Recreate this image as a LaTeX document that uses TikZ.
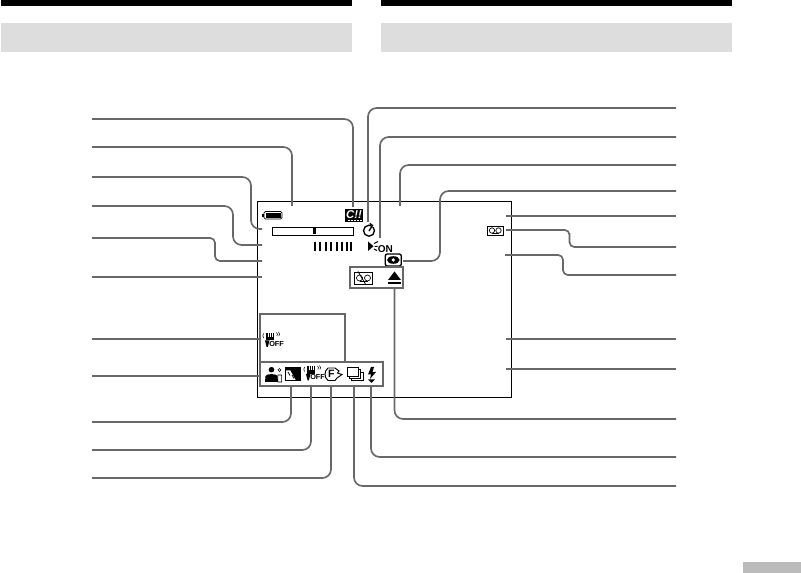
\documentclass[tikz,border=0pt]{standalone}
\usepackage{fontspec}
\setmainfont{Liberation Sans}
\begin{document}
\begin{tikzpicture}[x=0.75pt,y=-0.75pt,
  lead/.style={draw=leadgray,line width=1.25pt,rounded corners=6.5pt},
  zlead/.style={lead,rounded corners=3.6pt},
  panel/.style={draw=leadgray,line width=1.4pt},
  frameline/.style={draw=black,line width=0.75pt},
  icontext/.style={inner sep=0pt,font=\bfseries\fontsize{5.5}{6}\selectfont}]
\definecolor{leadgray}{HTML}{686868}
\definecolor{headgray}{HTML}{DDDDDD}
\definecolor{tabgray}{HTML}{BBBBBB}
\useasboundingbox (0,0) rectangle (801,573);
% page furniture
\fill[black] (1,0) rectangle (352,6);
\fill[black] (381,0) rectangle (732,6);
\fill[headgray] (1,23) rectangle (352,52);
\fill[headgray] (381,23) rectangle (732,52);
\fill[tabgray] (743,562) rectangle (801,573);
% viewfinder frame
\draw[frameline] (257,202) rectangle (511.5,398);
% left free ends
\foreach \n/\y in {1/119,2/147,3/177,4/206,5/238,6/277,7/339,8/376,9/422,10/450,11/478}
  \coordinate (l\n) at (92,\y);
\foreach \n/\y in {1/108,2/137,3/165,4/191,5/216,6/247,7/275,8/339,9/369,10/419,11/457,12/486}
  \coordinate (r\n) at (676,\y);
% cassette memory icon
\fill[black] (345,209) rectangle (363,222);
\node[text=white,inner sep=0pt,font=\bfseries\itshape\fontsize{8.5}{8.5}\selectfont] (cass) at (354,214.6) {C!!};
\foreach \x in {349,352,355,358,361} \fill[white] (\x-0.7,219.6) rectangle (\x+0.7,221);
\coordinate (e1) at (353,207);
\coordinate (e2) at (292,206);
\coordinate (e3) at (262,229);
\coordinate (e4) at (262,245);
\coordinate (e5) at (262,261);
\coordinate (e6) at (262,277);
\coordinate (e7) at (260,339);
\coordinate (e8) at (260,376);
\coordinate (c3) at (251,200);
\coordinate (c4) at (233,225);
\coordinate (c5) at (215,250);
% battery
\draw[black,line width=0.55pt,rounded corners=1pt] (264,211.5) rectangle (282,219);
\fill[black] (265.5,212.8) rectangle (280.8,217.8);
\fill[black] (262,213.7) rectangle (264,216.8);
% zoom bar
\draw[draw=black,line width=0.6pt] (272,227) rectangle (353,235);
\fill[black] (313,228) rectangle (316,234);
\foreach \x in {315,320.4,325.8,331.2,336.6,342,347.4,351}
  \fill[black] (\x-1,242) rectangle (\x+1,251);
% self timer
\draw[black,line width=1pt] (369,230.7) circle (5.5);
\fill[white] (370.5,223.5) rectangle (375,227);
\draw[black,line width=1pt] (369,231) -- (372.5,225.5) -- (369.8,223.5);
% light on
\fill[black] (368,241.5) -- (368,251) -- (373.5,246.2) -- cycle;
\draw[black,line width=0.7pt] (374,243.5) -- (378,241.5) (374.5,246.3) -- (377.5,246.3) (374,249) -- (377,250.5);
\node[icontext,anchor=west,font=\bfseries\fontsize{7.5}{7.5}\selectfont] (onlabel) at (377.5,249.3) {ON};
% eye
\node[draw=black,rounded corners=1.5pt,line width=1pt,minimum width=12pt,minimum height=9pt,inner sep=0pt] (eye) at (393.3,260) {};
\fill[black] (393.3,260) ellipse (6.3 and 3.8);
\fill[white] (393.3,260) circle (1.8);
% cassette warning panel
\draw[panel] (350,267) rectangle (403,288);
\draw[black,line width=0.6pt] (354.5,272.5) rectangle (372.5,284);
\draw[black,line width=0.5pt] (359.5,278) circle (3) (367.5,278) circle (3);
\draw[black,line width=0.5pt] (359.5,281) -- (367.5,281);
\draw[black,line width=0.6pt] (358,271.5) -- (366,285);
\fill[black] (394.5,271.5) -- (388,280) -- (401,280) -- cycle;
\fill[black] (388,281.8) rectangle (401,283.8);
% tape icon right
\draw[black,line width=0.7pt] (487.5,226) rectangle (503,235.5);
\draw[black,line width=0.5pt] (492,230.5) circle (2.7) (498.5,230.5) circle (2.7);
\draw[black,line width=0.5pt] (492,233.2) -- (498.5,233.2);
% mode panels
\draw[panel] (260,362) -- (260,314) -- (345,314) -- (345,362);
\draw[panel] (260,362) rectangle (383,386);
% stabiliser off icon
\newcommand{\stabicon}[2]{%
  \begin{scope}[shift={(#1,#2)}]
    \foreach \dx in {5,7.2,9.4,11.6} \draw[black,line width=1pt] (\dx,1) -- (\dx,6);
    \fill[black] (4.3,5) rectangle (12.4,8.5);
    \draw[black,line width=0.4pt] (1.6,1.5) .. controls (0.6,3) and (0.6,4.5) .. (1.6,6);
    \draw[black,line width=0.4pt] (14.5,0.5) .. controls (15.8,1.5) and (15.8,3) .. (14.8,4);
    \draw[black,line width=0.4pt] (16.5,0) .. controls (18,1.5) and (18,3) .. (16.8,4);
    \fill[black] (3,8.5) -- (7.5,8.5) -- (5.8,15) -- (4.6,15) -- cycle;
    \node[icontext,anchor=west] at (7,11.7) {OFF};
  \end{scope}}
\stabicon{262}{332}
\stabicon{303}{365.5}
% bottom row: person
\fill[black] (271.5,369.7) circle (2.8);
\fill[black] (265,382) -- (265.5,376) .. controls (266,373.5) and (277,373.5) .. (277.5,376) -- (278,382) -- cycle;
\draw[black,line width=0.4pt] (279.5,370) circle (1.4);
\draw[black,line width=0.4pt] (277.8,382) -- (278,375) -- (281.5,375) -- (281.7,382) -- cycle;
% exposure
\draw[black,line width=0.6pt] (285.5,367.5) rectangle (300,380.5);
\fill[black] (285.5,367.5) -- (300,367.5) -- (300,380.5) -- (296,380.5) -- (290.5,370.5) -- (285.5,370.5) -- cycle;
\draw[black,line width=0.6pt] (288,372) -- (290,375.5) (292,375) -- (294,378.5);
% program F
\draw[black,line width=0.7pt] (328,368) -- (335,368) -- (339,371) -- (337.5,373) -- (342,374.5) -- (337,378) -- (335,380.5) -- (328,380.5) .. controls (324,377.5) and (324,371) .. (328,368);
\node[icontext,font=\bfseries\fontsize{8}{8}\selectfont] (fmark) at (331.5,374.3) {F};
% burst
\draw[black,line width=0.7pt] (347,367.5) rectangle (358,376);
\draw[black,line width=0.6pt] (358,369.5) -- (360.5,369.5) -- (360.5,378.5) -- (349,378.5) -- (349,376);
\draw[black,line width=0.6pt] (360.5,372) -- (363,372) -- (363,380.5) -- (351,380.5) -- (351,378.5);
% flash
\fill[black] (371,367) -- (374,367) -- (372.5,372) -- (376,372) -- (370,379) -- (371,374.5) -- (368,374.5) -- cycle;
\fill[black] (368,379.5) -- (375,379.5) -- (371.5,383) -- cycle;
% ends
\coordinate (e9) at (291,385.5);
\coordinate (e10) at (311,385.5);
\coordinate (e11) at (331,385.5);
\coordinate (f1) at (368,222);
\coordinate (f2) at (380,238);
\coordinate (f3) at (400,206);
\coordinate (f4) at (403,261);
\coordinate (f5) at (506,216);
\coordinate (f6) at (506,230);
\coordinate (f7) at (505,255);
\coordinate (f8) at (506,339);
\coordinate (f9) at (506,369);
\coordinate (f10) at (394.5,289);
\coordinate (f11) at (371,385.5);
\coordinate (f12) at (354,385.5);
\coordinate (d4) at (440,225);
\coordinate (d6) at (569.5,238);
\coordinate (d7) at (563,265);
% leaders
\draw[lead] (l1) -| (e1);
\draw[lead] (l2) -| (e2);
\draw[lead] (l3) -| (c3) |- (e3);
\draw[lead] (l4) -| (c4) |- (e4);
\draw[zlead] (l5) -| (c5) |- (e5);
\draw[lead] (l6) -- (e6);
\draw[lead] (l7) -- (e7);
\draw[lead] (l8) -- (e8);
\draw[lead] (l9) -| (e9);
\draw[lead] (l10) -| (e10);
\draw[lead] (l11) -| (e11);
\draw[lead] (r1) -| (f1);
\draw[lead] (r2) -| (f2);
\draw[lead] (r3) -| (f3);
\draw[lead] (r4) -| (d4) |- (f4);
\draw[lead] (r5) -- (f5);
\draw[zlead] (r6) -| (d6) |- (f6);
\draw[zlead] (r7) -| (d7) |- (f7);
\draw[lead] (r8) -- (f8);
\draw[lead] (r9) -- (f9);
\draw[lead] (r10) -| (f10);
\draw[lead] (r11) -| (f11);
\draw[lead] (r12) -| (f12);
\end{tikzpicture}
\end{document}
